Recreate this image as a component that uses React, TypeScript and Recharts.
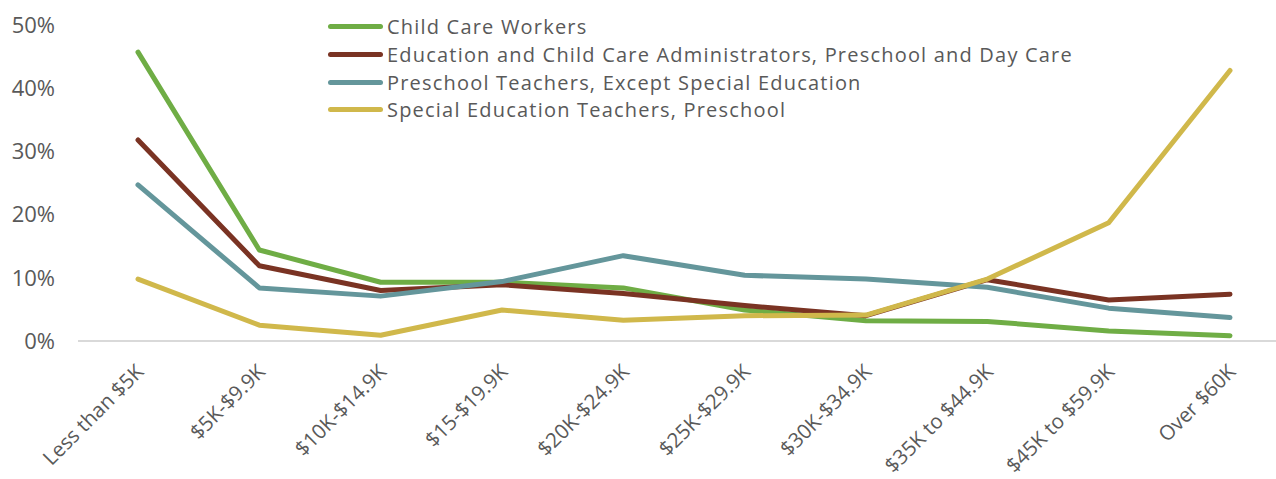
import { LineChart, Line, XAxis, YAxis, Legend } from "recharts";

const categories = [
  "Less than $5K",
  "$5K-$9.9K",
  "$10K-$14.9K",
  "$15-$19.9K",
  "$20K-$24.9K",
  "$25K-$29.9K",
  "$30K-$34.9K",
  "$35K to $44.9K",
  "$45K to $59.9K",
  "Over $60K",
];

const childCareWorkers = [45.7, 14.4, 9.3, 9.3, 8.4, 4.9, 3.2, 3.1, 1.6, 0.85];
const administrators = [31.8, 11.9, 8.0, 8.9, 7.5, 5.6, 4.0, 9.7, 6.5, 7.4];
const preschoolTeachers = [24.7, 8.4, 7.1, 9.4, 13.5, 10.4, 9.8, 8.5, 5.2, 3.7];
const specialEdTeachers = [9.8, 2.5, 0.9, 4.9, 3.3, 4.0, 4.1, 9.8, 18.7, 42.8];

const yTicks = [0, 10, 20, 30, 40, 50];

const series = [
  { key: "ccw", name: "Child Care Workers", color: "#6FAD45", values: childCareWorkers },
  {
    key: "adm",
    name: "Education and Child Care Administrators, Preschool and Day Care",
    color: "#7A3323",
    values: administrators,
  },
  { key: "pre", name: "Preschool Teachers, Except Special Education", color: "#64969B", values: preschoolTeachers },
  { key: "spe", name: "Special Education Teachers, Preschool", color: "#D0B84B", values: specialEdTeachers },
];

const data = categories.map((cat, i) => {
  const row: any = { cat };
  series.forEach((s) => (row[s.key] = s.values[i]));
  return row;
});

const FONT = "'Open Sans', 'Noto Sans', sans-serif";
const TEXT = "#595959";

const XTick = ({ x, y, payload }: any) => {
  const ax = x + 7;
  const ay = y + 24;
  return (
    <text
      x={ax}
      y={ay}
      textAnchor="end"
      transform={`rotate(-45, ${ax}, ${ay})`}
      fill={TEXT}
      fontSize={20.5}
      fontFamily={FONT}
    >
      {payload.value}
    </text>
  );
};

const LegendBox = () => (
  <div style={{ fontFamily: FONT, fontSize: 20, letterSpacing: 1.2, color: TEXT }}>
    {series.map((s) => (
      <div key={s.key} style={{ display: "flex", alignItems: "center", height: 27.7, lineHeight: "27px" }}>
        <span
          style={{
            display: "inline-block",
            width: 55,
            height: 5,
            borderRadius: 3,
            background: s.color,
            marginRight: 4,
          }}
        />
        <span style={{ whiteSpace: "nowrap", lineHeight: "27px" }}>{s.name}</span>
      </div>
    ))}
  </div>
);

export default function App() {
  return (
    <div style={{ position: "absolute", left: 0, top: 0, width: 1276, height: 479, background: "#fff" }}>
      <LineChart width={1276} height={479} data={data} margin={{ top: 25, right: 0, left: 0, bottom: 0 }}>
        <XAxis
          dataKey="cat"
          height={138}
          interval={0}
          padding={{ left: 60, right: 46 }}
          axisLine={{ stroke: "#D9D9D9", strokeWidth: 2 }}
          tickLine={false}
          tick={<XTick />}
        />
        <YAxis
          width={78}
          domain={[0, 50]}
          ticks={yTicks}
          interval={0}
          axisLine={false}
          tickLine={false}
          tickMargin={17}
          tickFormatter={(v: number) => `${v}%`}
          tick={{ fill: TEXT, fontSize: 22, fontFamily: FONT }}
        />
        <Legend
          layout="vertical"
          align="center"
          verticalAlign="middle"
          wrapperStyle={{ left: 328, top: 13, width: 900 }}
          content={<LegendBox />}
        />
        {series.map((s) => (
          <Line
            key={s.key}
            type="linear"
            dataKey={s.key}
            name={s.name}
            stroke={s.color}
            strokeWidth={5}
            strokeLinecap="round"
            strokeLinejoin="round"
            dot={false}
            activeDot={false}
            isAnimationActive={false}
          />
        ))}
      </LineChart>
    </div>
  );
}
